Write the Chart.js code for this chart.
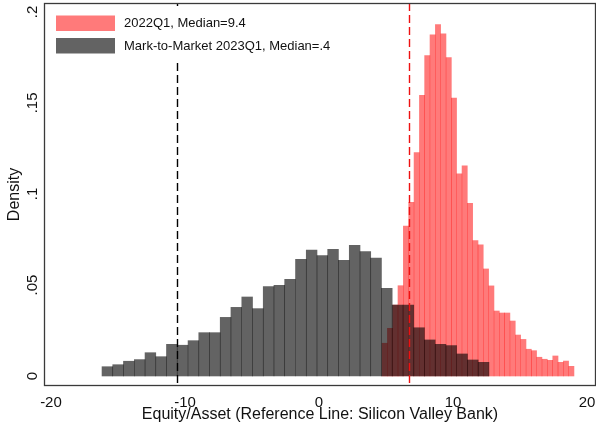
<!DOCTYPE html>
<html>
<head>
<meta charset="utf-8">
<script src="https://cdn.jsdelivr.net/npm/chart.js@4.4.1/dist/chart.umd.min.js"></script>
<style>
  html, body { margin: 0; padding: 0; background: #fff; }
  #wrap { width: 596px; height: 427px; }
</style>
</head>
<body>
<div id="wrap"><canvas id="hist" width="596" height="427"></canvas></div>
<script>
// bin centers (equity/asset, %) and densities
const grayCenters = [-15.79, -14.99, -14.19, -13.38, -12.58, -11.78, -10.98, -10.18, -9.37, -8.57,
  -7.77, -6.97, -6.17, -5.36, -4.56, -3.76, -2.96, -2.16, -1.35, -0.55,
  0.25, 1.05, 1.85, 2.66, 3.46, 4.26, 5.06, 5.86, 6.67, 7.47,
  8.27, 9.07, 9.87, 10.68, 11.48, 12.28];
const grayDensity = [0.0051, 0.0062, 0.0081, 0.0090, 0.0128, 0.0106, 0.0174, 0.0169, 0.0194, 0.0238,
  0.0238, 0.0322, 0.0377, 0.0434, 0.0370, 0.0491, 0.0498, 0.0531, 0.0641, 0.0692,
  0.0661, 0.0696, 0.0636, 0.0718, 0.0683, 0.0648, 0.0482, 0.0390, 0.0390, 0.0265,
  0.0198, 0.0174, 0.0167, 0.0121, 0.0088, 0.0075];

const redCenters = [4.90, 5.30, 5.70, 6.09, 6.49, 6.89, 7.29, 7.69, 8.08, 8.48,
  8.88, 9.28, 9.68, 10.07, 10.47, 10.87, 11.27, 11.67, 12.06, 12.46,
  12.86, 13.26, 13.66, 14.05, 14.45, 14.85, 15.25, 15.65, 16.04, 16.44,
  16.84, 17.24, 17.64, 18.03, 18.43, 18.83];
const redDensity = [0.0180, 0.0262, 0.0390, 0.0496, 0.0824, 0.0954, 0.1227, 0.1542, 0.1760, 0.1874,
  0.1930, 0.1879, 0.1749, 0.1527, 0.1110, 0.1154, 0.0949, 0.0744, 0.0720, 0.0588,
  0.0495, 0.0357, 0.0346, 0.0346, 0.0302, 0.0225, 0.0201, 0.0147, 0.0139, 0.0103,
  0.0092, 0.0086, 0.0110, 0.0075, 0.0082, 0.0053];

const seriesLabels = ['2022Q1, Median=9.4', 'Mark-to-Market 2023Q1, Median=.4'];

// Silicon Valley Bank reference lines
const svb2022 = 6.73;
const svbMtm2023 = -10.57;

const xTickValues = [-20, -10, 0, 10, 20];
const xTickLabels = ['-20', '-10', '0', '10', '20'];
const yTickValues = [0, 0.05, 0.1, 0.15, 0.2];
const yTickLabels = ['0', '.05', '.1', '.15', '.2'];

const FONT = 'Liberation Sans, Arial, sans-serif';
const RED_FILL = 'rgba(255,0,0,0.52)';
const GRAY_FILL = 'rgba(0,0,0,0.61)';

const toPoints = (xs, ys) => xs.map((x, i) => ({ x: x, y: ys[i] }));

// y tick labels (rotated, Stata style), frame, SVB lines and the legend
const overlay = {
  id: 'overlay',
  afterDatasetsDraw(chart) {
    const { ctx, chartArea: a } = chart;
    const xs = chart.scales.x;
    const ys = chart.scales.y;
    ctx.save();

    // reference lines
    ctx.lineWidth = 1.4;
    ctx.setLineDash([8, 4]);
    [[svbMtm2023, '#000000'], [svb2022, '#ee1111']].forEach(([v, c]) => {
      const px = Math.round(xs.getPixelForValue(v)) + 0.5;
      ctx.strokeStyle = c;
      ctx.beginPath();
      ctx.moveTo(px, a.top);
      ctx.lineTo(px, a.bottom);
      ctx.stroke();
    });
    ctx.setLineDash([]);

    // frame
    ctx.strokeStyle = '#3a3a3a';
    ctx.lineWidth = 1.3;
    ctx.strokeRect(a.left + 0.5, a.top + 0.5, a.right - a.left - 1, a.bottom - a.top - 1);

    // y tick labels, read bottom to top
    ctx.fillStyle = '#111';
    ctx.font = '15px ' + FONT;
    ctx.textAlign = 'center';
    ctx.textBaseline = 'middle';
    ys.ticks.forEach((t, i) => {
      const py = ys.getPixelForValue(t.value);
      ctx.save();
      ctx.translate(33, py);
      ctx.rotate(-Math.PI / 2);
      ctx.fillText(yTickLabels[i], 0, 0);
      ctx.restore();
    });

    // legend on a white patch inside the plot
    ctx.fillStyle = '#fff';
    ctx.fillRect(48, 6, 290, 56);
    ctx.font = '13px ' + FONT;
    ctx.textAlign = 'left';
    const items = [chart.data.datasets[0], chart.data.datasets[1]];
    items.forEach((ds, i) => {
      const y0 = 15.5 + i * 22.5;
      ctx.fillStyle = ds.backgroundColor;
      ctx.fillRect(56, y0, 59, 15.5);
      ctx.fillStyle = '#111';
      ctx.fillText(ds.label, 124, y0 + 8);
    });
    ctx.restore();
  }
};

new Chart(document.getElementById('hist'), {
  type: 'bar',
  data: {
    datasets: [
      {
        label: seriesLabels[0],
        data: toPoints(redCenters, redDensity),
        xAxisID: 'x2',
        backgroundColor: RED_FILL,
        borderWidth: 0,
        categoryPercentage: 1,
        barPercentage: 1,
        grouped: false,
        order: 1
      },
      {
        label: seriesLabels[1],
        data: toPoints(grayCenters, grayDensity),
        xAxisID: 'x',
        backgroundColor: GRAY_FILL,
        borderWidth: 0,
        categoryPercentage: 1,
        barPercentage: 1,
        grouped: false,
        order: 0
      }
    ]
  },
  options: {
    responsive: false,
    animation: false,
    events: [],
    layout: { padding: { top: 3, right: 0, left: 0, bottom: 0 } },
    plugins: { legend: { display: false }, tooltip: { enabled: false } },
    scales: {
      x: {
        type: 'linear',
        position: 'bottom',
        min: -20.52,
        max: 20.67,
        offset: false,
        afterBuildTicks: s => { s.ticks = xTickValues.map(v => ({ value: v })); },
        afterFit: s => { s.height = 41; s.paddingLeft = 0; s.paddingRight = 0; },
        grid: { display: false, drawTicks: false },
        border: { display: false },
        ticks: {
          padding: 8,
          color: '#111',
          font: { family: FONT, size: 15 },
          maxRotation: 0,
          callback: (v, i) => xTickLabels[i]
        },
        title: {
          display: true,
          text: 'Equity/Asset (Reference Line: Silicon Valley Bank)',
          color: '#111',
          font: { family: FONT, size: 16 },
          padding: { top: 0, bottom: 3 }
        }
      },
      x2: {
        type: 'linear',
        display: false,
        min: -20.52,
        max: 20.67,
        offset: false
      },
      y: {
        type: 'linear',
        min: -0.0055,
        max: 0.2049,
        afterBuildTicks: s => { s.ticks = yTickValues.map(v => ({ value: v })); },
        afterFit: s => { s.width = 44; s.paddingTop = 0; s.paddingBottom = 0; },
        grid: { display: false, drawTicks: false },
        border: { display: false },
        ticks: {
          display: false,
          callback: (v, i) => yTickLabels[i]
        },
        title: {
          display: true,
          text: 'Density',
          color: '#111',
          font: { family: FONT, size: 16 },
          padding: { top: 5, bottom: 0 }
        }
      }
    }
  },
  plugins: [overlay]
});
</script>
</body>
</html>
